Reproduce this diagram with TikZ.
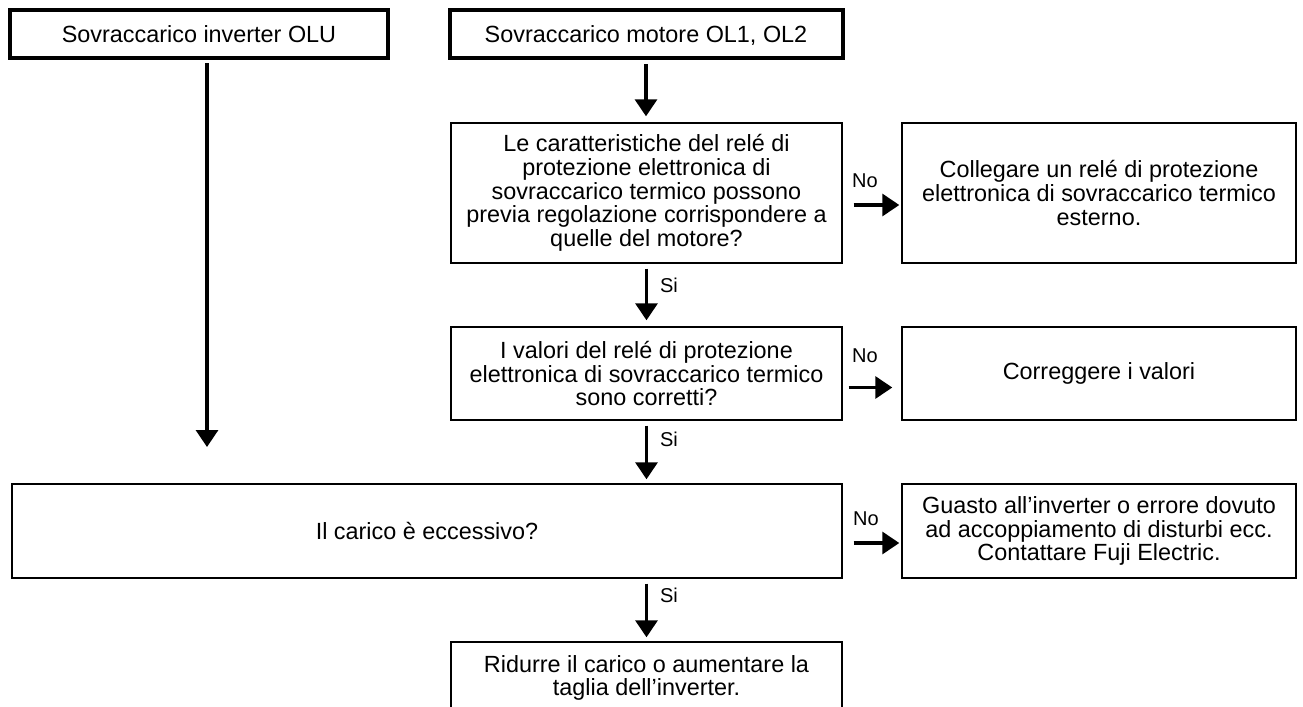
\documentclass[tikz,border=0pt]{standalone}
\usepackage{fontspec}
\setmainfont{Liberation Sans}
\usetikzlibrary{arrows.meta}
\begin{document}
\begin{tikzpicture}[x=0.5pt,y=-0.5pt,
  box/.style={draw, line width=0.7pt, align=center, inner sep=0pt, font=\fontsize{11.7}{11.9}\selectfont},
  topbox/.style={box, line width=2pt, text depth=0pt},
  arr/.style={line width=1.6pt, -{Triangle[width=11pt,length=8.5pt]}},
  lbl/.style={font=\fontsize{10}{12}\selectfont, inner sep=0pt}]
\useasboundingbox (0,0) rectangle (1303,707);
% nodes
\node[topbox, minimum width=189pt, minimum height=24pt] (olu) at (199,34) {Sovraccarico inverter OLU};
\node[topbox, minimum width=196.5pt, minimum height=24pt] (mot) at (646,34) {Sovraccarico motore OL1, OL2};
\node[box, minimum width=195.5pt, minimum height=70pt] (q1) at (646.5,193) {Le caratteristiche del relé di\\protezione elettronica di\\sovraccarico termico possono\\previa regolazione corrispondere a\\quelle del motore?};
\node[box, minimum width=197pt, minimum height=70pt] (r1) at (1099,193) {Collegare un relé di protezione\\elettronica di sovraccarico termico\\esterno.};
\node[box, minimum width=195.5pt, minimum height=46.5pt] (q2) at (646.5,373.5) {I valori del relé di protezione\\elettronica di sovraccarico termico\\sono corretti?};
\node[box, minimum width=197pt, minimum height=46.5pt] (r2) at (1099,373.5) {Correggere i valori};
\node[box, minimum width=415pt, minimum height=47pt] (q3) at (427,531) {Il carico è eccessivo?};
\node[box, minimum width=197pt, minimum height=47pt] (r3) at (1099,531) {Guasto all’inverter o errore dovuto\\ad accoppiamento di disturbi ecc.\\Contattare Fuji Electric.};
\node[box, minimum width=195.5pt, minimum height=36pt] (fin) at (646.5,678) {Ridurre il carico o aumentare la\\taglia dell’inverter.};
% labels
\node[lbl] (no1) at (865,181) {No};
\node[lbl] (no2) at (865,356) {No};
\node[lbl] (no3) at (866,519) {No};
\node[lbl] (si1) at (669,285) {Si};
\node[lbl] (si2) at (669,439) {Si};
\node[lbl] (si3) at (669,595) {Si};
% connectors
\coordinate (lend) at (207,447);
\draw[arr] (lend |- olu.south) ++(0,3) -- (lend);
\draw[arr, shorten <=2pt, shorten >=3pt] (mot.south) -- (mot.south |- q1.north);
\draw[arr, shorten <=2.5pt, shorten >=3pt] (q1.south) -- (q2.north);
\draw[arr, shorten <=2.5pt, shorten >=2pt] (q2.south) -- (q2.south |- q3.north);
\draw[arr, shorten <=2.5pt, shorten >=2pt] (fin.north |- q3.south) -- (fin.north);
\draw[arr, shorten <=5.5pt, shorten >=1pt] ([yshift=-6pt]q1.east) -- ([yshift=-6pt]r1.west);
\draw[arr, shorten <=3pt, shorten >=4.5pt] ([yshift=-7pt]q2.east) -- ([yshift=-7pt]r2.west);
\draw[arr, shorten <=5.5pt, shorten >=1pt] ([yshift=-6pt]q3.east) -- ([yshift=-6pt]r3.west);
\end{tikzpicture}
\end{document}
